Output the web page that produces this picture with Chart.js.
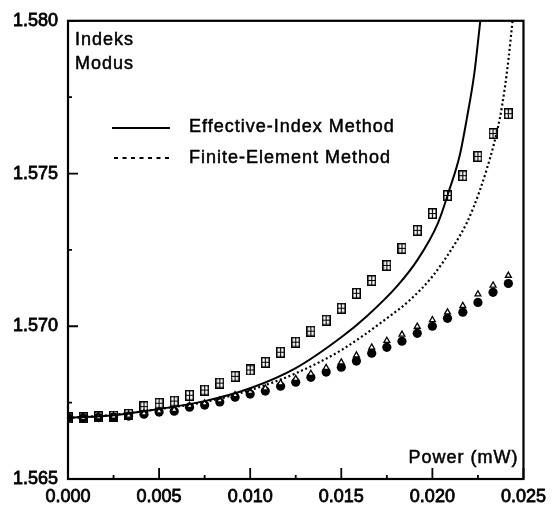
<!DOCTYPE html>
<html>
<head>
<meta charset="utf-8">
<script src="https://cdn.jsdelivr.net/npm/chart.js@4.4.1/dist/chart.umd.min.js"></script>
<style>
  html, body { margin: 0; padding: 0; background: #fff; }
  #wrap { width: 553px; height: 505px; }
</style>
</head>
<body>
<div id="wrap"><canvas id="grafico"></canvas></div>
<script>
// power steps of the measured points (mW)
const power = [0, 0.00083, 0.00167, 0.0025, 0.00333, 0.00417, 0.005, 0.00583, 0.00667, 0.0075,
  0.00833, 0.00917, 0.01, 0.01083, 0.01167, 0.0125, 0.01333, 0.01417, 0.015, 0.01583,
  0.01667, 0.0175, 0.01833, 0.01917, 0.02, 0.02083, 0.02167, 0.0225, 0.02333, 0.02417];

// crossed squares
const indexSquares = [1.56700, 1.56701, 1.56703, 1.56706, 1.56712, 1.56737, 1.56748, 1.56755, 1.56774, 1.56791,
  1.56814, 1.56836, 1.56857, 1.56882, 1.56915, 1.56948, 1.56984, 1.57020, 1.57059, 1.57108,
  1.57150, 1.57199, 1.57255, 1.57314, 1.57369, 1.57428, 1.57493, 1.57556, 1.57631, 1.57696];

// filled circles
const indexCircles = [1.56700, 1.56700, 1.56701, 1.56703, 1.56706, 1.56712, 1.56719, 1.56722, 1.56735, 1.56742,
  1.56752, 1.56768, 1.56778, 1.56788, 1.56804, 1.56817, 1.56833, 1.56850, 1.56866, 1.56886,
  1.56912, 1.56931, 1.56951, 1.56977, 1.57000, 1.57026, 1.57046, 1.57078, 1.57111, 1.57140];

// open triangles
const indexTriangles = [1.56700, 1.56701, 1.56702, 1.56705, 1.56708, 1.56715, 1.56722, 1.56727, 1.56740, 1.56748,
  1.56758, 1.56775, 1.56786, 1.56797, 1.56814, 1.56828, 1.56845, 1.56864, 1.56882, 1.56905,
  1.56931, 1.56953, 1.56973, 1.56999, 1.57021, 1.57046, 1.57067, 1.57105, 1.57134, 1.57166];

// Effective-Index Method curve
const effPower = [0, 0.0025, 0.005, 0.0075, 0.01, 0.0125, 0.015, 0.0164, 0.0181, 0.0192,
  0.0203, 0.0209, 0.0215, 0.0219, 0.0223, 0.02263];
const effIndex = [1.56700, 1.56709, 1.56729, 1.56755, 1.56797, 1.56863, 1.56964, 1.57033, 1.57134, 1.57219,
  1.57337, 1.57441, 1.57559, 1.57683, 1.57827, 1.58000];

// Finite-Element Method curve
const femPower = [0, 0.0025, 0.005, 0.0075, 0.01, 0.0125, 0.015, 0.0175, 0.01875, 0.02, 0.02125,
  0.0219, 0.0226, 0.02337, 0.0237, 0.02397, 0.02418, 0.0244];
const femIndex = [1.56700, 1.56710, 1.56729, 1.56752, 1.56791, 1.56846, 1.56922, 1.57026, 1.57085, 1.57163, 1.57271,
  1.57340, 1.57444, 1.57595, 1.57680, 1.57778, 1.57876, 1.58000];

const xTicks = [0, 0.005, 0.01, 0.015, 0.02, 0.025];
const yTicks = [1.565, 1.570, 1.575, 1.580];

const FONT = '"Liberation Sans", Arial, sans-serif';

function pares(xs, ys) {
  return xs.map((x, i) => ({ x: x, y: ys[i] }));
}

// square with a cross inside
function cuadroCruz() {
  const c = document.createElement('canvas');
  c.width = 9; c.height = 11;
  const g = c.getContext('2d');
  g.fillStyle = '#fff';
  g.fillRect(0, 0, 9, 11);
  g.strokeStyle = '#000';
  g.lineWidth = 1.5;
  g.strokeRect(0.75, 0.75, 7.5, 9.5);
  g.lineWidth = 1.2;
  g.beginPath();
  g.moveTo(4.5, 1); g.lineTo(4.5, 10);
  g.moveTo(1, 5.5); g.lineTo(8, 5.5);
  g.stroke();
  return c;
}

function texto(ctx, s, x, y) {
  ctx.fillText(s, x, y);
  ctx.strokeText(s, x, y);
}

// frame, inward ticks and the texts inside the plot
const marco = {
  id: 'marco',
  afterDraw(chart) {
    const ctx = chart.ctx;
    const a = chart.chartArea;
    const sx = chart.scales.x, sy = chart.scales.y;
    ctx.save();
    ctx.strokeStyle = '#000';
    ctx.lineWidth = 2.2;
    ctx.strokeRect(a.left, a.top, a.right - a.left, a.bottom - a.top);

    ctx.lineWidth = 1.8;
    ctx.beginPath();
    for (let v = 0.0025; v < 0.025; v += 0.0025) {
      const px = sx.getPixelForValue(v);
      const major = Math.abs(v / 0.005 - Math.round(v / 0.005)) < 1e-6;
      ctx.moveTo(px, a.bottom);
      ctx.lineTo(px, a.bottom - (major ? 11 : 4));
    }
    for (let v = 1.5675; v < 1.58; v += 0.0025) {
      const py = sy.getPixelForValue(v);
      const major = Math.abs((v - 1.565) / 0.005 - Math.round((v - 1.565) / 0.005)) < 1e-6;
      ctx.moveTo(a.left, py);
      ctx.lineTo(a.left + (major ? 10 : 4), py);
    }
    ctx.stroke();

    ctx.fillStyle = '#000';
    ctx.lineWidth = 0.5;
    ctx.font = '18px ' + FONT;
    ctx.letterSpacing = '1px';
    ctx.textBaseline = 'alphabetic';
    ctx.textAlign = 'left';
    texto(ctx, 'Indeks', a.left + 7, 45);
    texto(ctx, 'Modus', a.left + 7, 69);
    texto(ctx, 'Effective-Index Method', 189, 132);
    texto(ctx, 'Finite-Element Method', 189, 163);
    ctx.textAlign = 'right';
    texto(ctx, 'Power (mW)', a.right - 5, 463);

    ctx.lineWidth = 2;
    ctx.beginPath();
    ctx.moveTo(112, 128); ctx.lineTo(170, 128);
    ctx.stroke();
    ctx.setLineDash([4, 4.5]);
    ctx.beginPath();
    ctx.moveTo(114, 158); ctx.lineTo(170, 158);
    ctx.stroke();
    ctx.restore();
  }
};

new Chart(document.getElementById('grafico'), {
  type: 'scatter',
  data: {
    datasets: [
      {
        label: 'Effective-Index Method',
        data: pares(effPower, effIndex),
        showLine: true,
        borderColor: '#000',
        borderWidth: 2,
        pointRadius: 0,
        cubicInterpolationMode: 'monotone'
      },
      {
        label: 'Finite-Element Method',
        data: pares(femPower, femIndex),
        showLine: true,
        borderColor: '#000',
        borderWidth: 2.2,
        borderDash: [2, 2.6],
        pointRadius: 0,
        cubicInterpolationMode: 'monotone'
      },
      {
        label: 'triangles',
        data: pares(power, indexTriangles),
        pointStyle: 'triangle',
        pointRadius: 3.4,
        backgroundColor: '#fff',
        borderColor: '#000',
        borderWidth: 1.3
      },
      {
        label: 'circles',
        data: pares(power, indexCircles),
        pointStyle: 'circle',
        pointRadius: 4.6,
        backgroundColor: '#000',
        borderColor: '#000',
        borderWidth: 0
      },
      {
        label: 'squares',
        data: pares(power, indexSquares),
        pointStyle: cuadroCruz(),
        pointRadius: 5
      }
    ]
  },
  options: {
    responsive: true,
    maintainAspectRatio: false,
    animation: false,
    events: [],
    layout: { padding: { top: 20, right: 26, left: 0, bottom: 0 } },
    plugins: {
      legend: { display: false },
      tooltip: { enabled: false }
    },
    scales: {
      x: {
        type: 'linear',
        min: 0,
        max: 0.025,
        afterFit(s) { s.height = 26; },
        afterBuildTicks(s) { s.ticks = xTicks.map(v => ({ value: v })); },
        grid: { display: false, drawTicks: false },
        border: { display: false },
        ticks: {
          color: '#000',
          padding: 7,
          font: { family: FONT, size: 18 },
          textStrokeColor: '#000',
          textStrokeWidth: 0.8,
          maxRotation: 0,
          callback: v => v.toFixed(3)
        }
      },
      y: {
        type: 'linear',
        min: 1.565,
        max: 1.580,
        afterFit(s) { s.width = 68; },
        afterBuildTicks(s) { s.ticks = yTicks.map(v => ({ value: v })); },
        grid: { display: false, drawTicks: false },
        border: { display: false },
        ticks: {
          color: '#000',
          padding: 10,
          font: { family: FONT, size: 18 },
          textStrokeColor: '#000',
          textStrokeWidth: 0.8,
          callback: v => v.toFixed(3)
        }
      }
    }
  },
  plugins: [marco]
});
</script>
</body>
</html>
